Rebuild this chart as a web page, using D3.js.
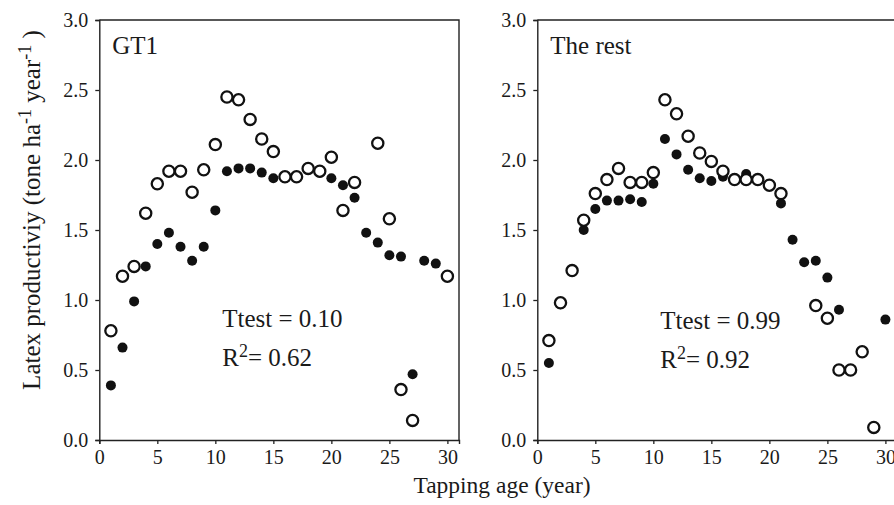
<!DOCTYPE html>
<html>
<head>
<meta charset="utf-8">
<script src="https://cdn.jsdelivr.net/npm/d3@7/dist/d3.min.js"></script>
<style>
  html, body { margin: 0; padding: 0; background: #fff; }
  svg { display: block; }
  text { font-family: "Liberation Serif", "Times New Roman", serif; fill: #1a1a1a; }
</style>
</head>
<body>
<svg id="chart" width="894" height="505"></svg>
<script>
// Tapping age (years)
const ages = [1,2,3,4,5,6,7,8,9,10,11,12,13,14,15,16,17,18,19,20,21,22,23,24,25,26,27,28,29,30];

// GT1 clone: hollow and solid series (null = no value)
const gt1Hollow = [0.78,1.17,1.24,1.62,1.83,1.92,1.92,1.77,1.93,2.11,2.45,2.43,2.29,2.15,2.06,1.88,1.88,1.94,1.92,2.02,1.64,1.84,null,2.12,1.58,0.36,0.14,null,null,1.17];
const gt1Solid  = [0.39,0.66,0.99,1.24,1.40,1.48,1.38,1.28,1.38,1.64,1.92,1.94,1.94,1.91,1.87,1.88,1.88,1.93,1.91,1.87,1.82,1.73,1.48,1.41,1.32,1.31,0.47,1.28,1.26,null];

// Remaining clones: hollow and solid series
const restHollow = [0.71,0.98,1.21,1.57,1.76,1.86,1.94,1.84,1.84,1.91,2.43,2.33,2.17,2.05,1.99,1.92,1.86,1.86,1.86,1.82,1.76,null,null,0.96,0.87,0.50,0.50,0.63,0.09,null];
const restSolid  = [0.55,0.97,1.21,1.50,1.65,1.71,1.71,1.72,1.70,1.83,2.15,2.04,1.93,1.87,1.85,1.88,1.87,1.90,1.86,1.82,1.69,1.43,1.27,1.28,1.16,0.93,null,null,null,0.86];

// Axis ticks
const xTicks = [0,5,10,15,20,25,30];
const yTicks = [0,0.5,1.0,1.5,2.0,2.5,3.0];

const panelTitles = ["GT1", "The rest"];
const ttestValues = ["0.10", "0.99"];
const r2Values = ["0.62", "0.92"];

const serif = '"Liberation Serif", "Times New Roman", serif';
const svg = d3.select("#chart");
const plotTop = 20, plotBottom = 440, panelW = 359.7;
const panelLefts = [99.3, 537.3];

const y = d3.scaleLinear().domain([0, 3]).range([plotBottom, plotTop]);

function drawPanel(i, hollow, solid) {
  const left = panelLefts[i];
  const x = d3.scaleLinear().domain([0, 31]).range([left, left + panelW]);
  const g = svg.append("g");

  // frame: top and right edges
  g.append("path")
    .attr("d", `M${left},${plotTop}H${left + panelW}V${plotBottom}`)
    .attr("fill", "none").attr("stroke", "#222").attr("stroke-width", 1.4);

  const xAxis = g.append("g").attr("transform", `translate(0,${plotBottom})`)
    .call(d3.axisBottom(x).tickValues(xTicks).tickSize(4).tickPadding(4).tickFormat(d3.format("d")));
  const yAxis = g.append("g").attr("transform", `translate(${left},0)`)
    .call(d3.axisLeft(y).tickValues(yTicks).tickSize(4).tickPadding(7).tickFormat(d3.format(".1f")));
  [xAxis, yAxis].forEach(a => {
    a.attr("font-family", serif);
    a.select(".domain").attr("stroke", "#222").attr("stroke-width", 1.4);
    a.selectAll(".tick line").attr("stroke", "#222").attr("stroke-width", 1.3);
    a.selectAll(".tick text").attr("font-size", 20).attr("fill", "#1a1a1a")
      .style("font-family", serif);
  });
  xAxis.selectAll(".tick text").attr("dy", "0.78em");

  const pts = (arr) => ages.map((a, k) => ({ a, v: arr[k] })).filter(d => d.v != null);

  g.append("g").selectAll("circle").data(pts(solid)).join("circle")
    .attr("cx", d => x(d.a)).attr("cy", d => y(d.v)).attr("r", 5)
    .attr("fill", "#111");

  g.append("g").selectAll("circle").data(pts(hollow)).join("circle")
    .attr("cx", d => x(d.a)).attr("cy", d => y(d.v)).attr("r", 5.6)
    .attr("fill", "#fff").attr("stroke", "#111").attr("stroke-width", 2.3);

  g.append("text").attr("x", left + 13).attr("y", 54)
    .attr("font-size", 25).text(panelTitles[i]);

  const tx = x(10.6);
  g.append("text").attr("x", tx).attr("y", i === 0 ? 327 : 329)
    .attr("font-size", 25).text(`Ttest = ${ttestValues[i]}`);
  const r2 = g.append("text").attr("x", tx).attr("y", i === 0 ? 366 : 368).attr("font-size", 25);
  r2.append("tspan").text("R");
  r2.append("tspan").attr("font-size", 18).attr("dy", -9).text("2");
  r2.append("tspan").attr("dy", 9).text("= " + r2Values[i]);
}

drawPanel(0, gt1Hollow, gt1Solid);
drawPanel(1, restHollow, restSolid);

// shared axis titles
svg.append("text").attr("x", 502).attr("y", 493).attr("text-anchor", "middle")
  .attr("font-size", 23.5).text("Tapping age (year)");

const yl = svg.append("text")
  .attr("transform", "translate(40,210) rotate(-90)")
  .attr("text-anchor", "middle").attr("font-size", 25);
yl.append("tspan").text("Latex productiviy (tone ha");
yl.append("tspan").attr("font-size", 18).attr("dy", -9).text("-1");
yl.append("tspan").attr("dy", 9).text("  year");
yl.append("tspan").attr("font-size", 18).attr("dy", -9).text("-1");
yl.append("tspan").attr("dy", 9).text(" )");
</script>
</body>
</html>
